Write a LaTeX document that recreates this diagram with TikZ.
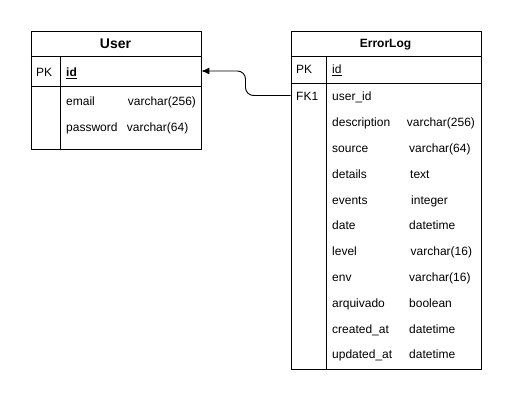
\documentclass[tikz,border=0pt]{standalone}
\usepackage{fontspec}
\setmainfont{Liberation Sans}
\usetikzlibrary{arrows.meta}
\begin{document}
\begin{tikzpicture}[x=1pt,y=-1pt,
  txt/.style={anchor=west,inner sep=0pt,text height=8.6pt,text depth=0pt,font=\fontsize{12}{14}\selectfont},
  ttl/.style={anchor=center,inner sep=0pt,text height=8.6pt,text depth=0pt,font=\bfseries\fontsize{12}{14}\selectfont},
  tbl/.style={draw=black,line width=0.9pt,fill=white,inner sep=0pt,anchor=north west},
  sep/.style={draw=black,line width=0.9pt},
  conn/.style={draw=black,line width=0.9pt,rounded corners=8pt,-{Latex[length=8pt,width=7pt]}}]
\useasboundingbox (0,0) rectangle (511,402);
\fill[white] (0,0) rectangle (511,402);
% User table
\node[tbl,minimum width=170pt,minimum height=118pt] (user) at (30.5,30.5) {};
\draw[sep] (30.5,56.5) -- (200.5,56.5);
\draw[sep] (30.5,86.5) -- (200.5,86.5);
\draw[sep] (60.5,56.5) -- (60.5,148.5);
\node[ttl,text height=10pt,font=\bfseries\fontsize{14}{16}\selectfont] (utitle) at (115.5,43.5) {User};
\node[txt] (upk) at (36,72) {PK};
\node[txt,font=\bfseries\fontsize{12}{14}\selectfont] (uid) at (66,72) {\underline{id}};
\node[txt] (uemail) at (66,101) {email};
\node[txt] (uemailt) at (127.7,101) {varchar(256)};
\node[txt] (upass) at (66,127) {password};
\node[txt] (upasst) at (126.7,127) {varchar(64)};
% ErrorLog table
\node[tbl,minimum width=190pt,minimum height=338pt] (elog) at (290.5,30.5) {};
\draw[sep] (290.5,56.5) -- (480.5,56.5);
\draw[sep] (290.5,83.5) -- (480.5,83.5);
\draw[sep] (326,56.5) -- (326,368.5);
\node[ttl] (etitle) at (385.5,43.5) {ErrorLog};
\node[txt] (epk) at (296,69.5) {PK};
\node[txt] (eid) at (332,69.5) {\underline{id}};
\node[txt] (efk) at (296,96) {FK1};
\node[txt] (euid) at (332,96) {user\_id};
\node[txt] (e1) at (332,122.3) {description};
\node[txt] (e1t) at (406.7,122.3) {varchar(256)};
\node[txt] (e2) at (332,148.1) {source};
\node[txt] (e2t) at (409,148.1) {varchar(64)};
\node[txt] (e3) at (332,173.9) {details};
\node[txt] (e3t) at (410,173.9) {text};
\node[txt] (e4) at (332,199.7) {events};
\node[txt] (e4t) at (411,199.7) {integer};
\node[txt] (e5) at (332,225.5) {date};
\node[txt] (e5t) at (409,225.5) {datetime};
\node[txt] (e6) at (332,251.3) {level};
\node[txt] (e6t) at (410.5,251.3) {varchar(16)};
\node[txt] (e7) at (332,277.1) {env};
\node[txt] (e7t) at (409,277.1) {varchar(16)};
\node[txt] (e8) at (332,302.9) {arquivado};
\node[txt] (e8t) at (409,302.9) {boolean};
\node[txt] (e9) at (332,328.7) {created\_at};
\node[txt] (e9t) at (409,328.7) {datetime};
\node[txt] (e10) at (332,354.5) {updated\_at};
\node[txt] (e10t) at (409,354.5) {datetime};
% connector
\coordinate (fkend) at (elog.west |- 0,95.5);
\coordinate (pkend) at (user.east |- 0,71);
\draw[conn] (fkend) -- (245.5,95.5) -- (245.5,71) -- (pkend);
\end{tikzpicture}
\end{document}
